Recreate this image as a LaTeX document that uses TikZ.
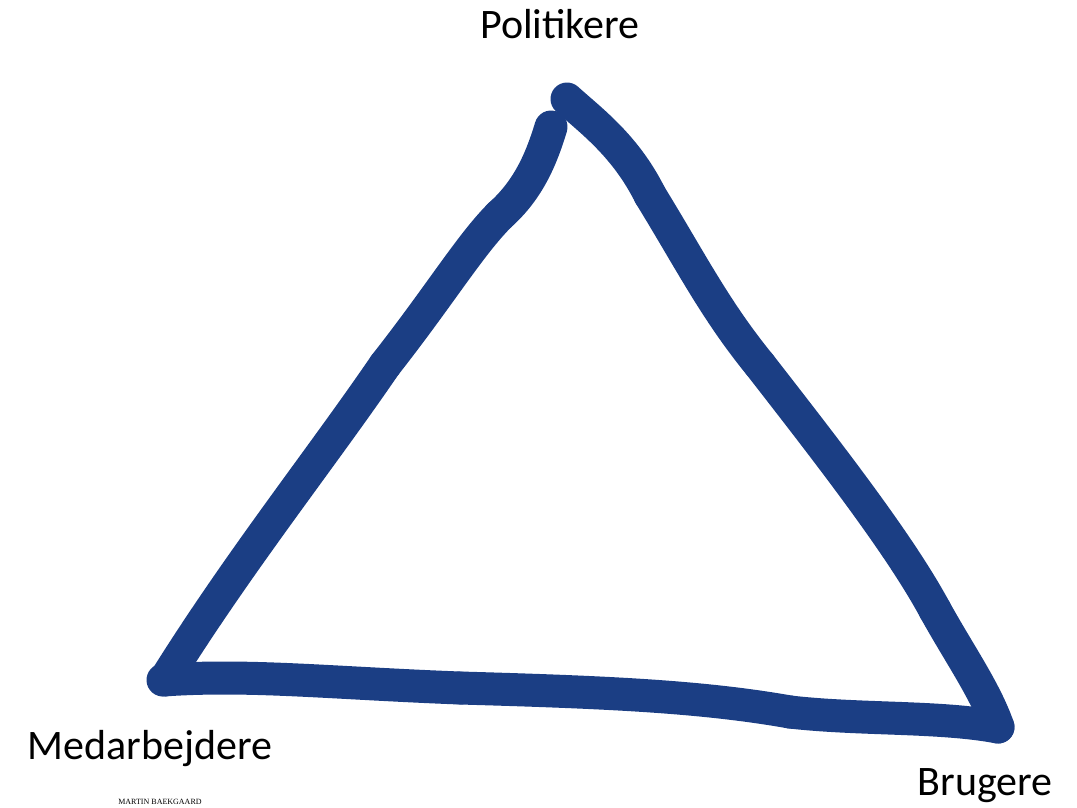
\documentclass[tikz,border=0pt]{standalone}
\usepackage{fontspec}
\setmainfont{Carlito}
\newfontfamily\smallserif{Liberation Serif}
\definecolor{penblue}{HTML}{1B3E84}

\begin{document}
\begin{tikzpicture}[x=1pt, y=-1pt, line width=33pt, line cap=round, line join=round,
  pen/.style={draw=penblue, line width=33pt},
  corner/.style={anchor=center, inner sep=0pt, font=\fontsize{42}{50}\selectfont}]

  %% ==== venstre side (Politikere -> Medarbejdere) ====
  \draw[pen] (551.0,127.0) .. controls (541.0,160.0) and (528.0,190.0) .. (500.0,215.0);
  \draw[pen] (500.0,215.0) .. controls (470.0,245.0) and (440.0,295.0) .. (385.0,365.0);
  \draw[pen] (385.0,365.0) .. controls (320.0,460.0) and (240.0,560.0) .. (165.0,680.0);

  %% ==== hoejre side (Politikere -> Brugere) ====
  \draw[pen] (567.0,99.0) .. controls (590.0,120.0) and (625.0,145.0) .. (650.0,195.0);
  \draw[pen] (650.0,195.0) .. controls (690.0,260.0) and (715.0,310.0) .. (760.0,365.0);
  \draw[pen] (760.0,365.0) .. controls (830.0,455.0) and (900.0,545.0) .. (935.0,610.0);
  \draw[pen] (935.0,610.0) .. controls (960.0,655.0) and (985.0,690.0) .. (998.0,727.0);

  %% ==== bund (Medarbejdere -> Brugere) ====
  \draw[pen] (163.0,680.0) .. controls (250.0,674.0) and (330.0,683.0) .. (460.0,688.0);
  \draw[pen] (460.0,688.0) .. controls (600.0,692.0) and (700.0,696.0) .. (790.0,712.0);
  \draw[pen] (790.0,712.0) .. controls (860.0,720.0) and (940.0,716.0) .. (998.0,727.0);

  %% ==== etiketter ====
  \node[corner] (pol) at (560.0,24.0) {Politikere};
  \node[corner] (med) at (150.0,749.0) {Medarbejdere};
  \node[corner] (bru) at (985.0,786.0) {Brugere};
  \node[anchor=center, inner sep=0pt, font=\smallserif\fontsize{8}{9}\selectfont] (sig) at (160.0,801.5) {MARTIN BAEKGAARD};

  % fast lærred 1077 x 807
  \pgfresetboundingbox
  \path[use as bounding box] (0,0) rectangle (1077,807);
\end{tikzpicture}
\end{document}
